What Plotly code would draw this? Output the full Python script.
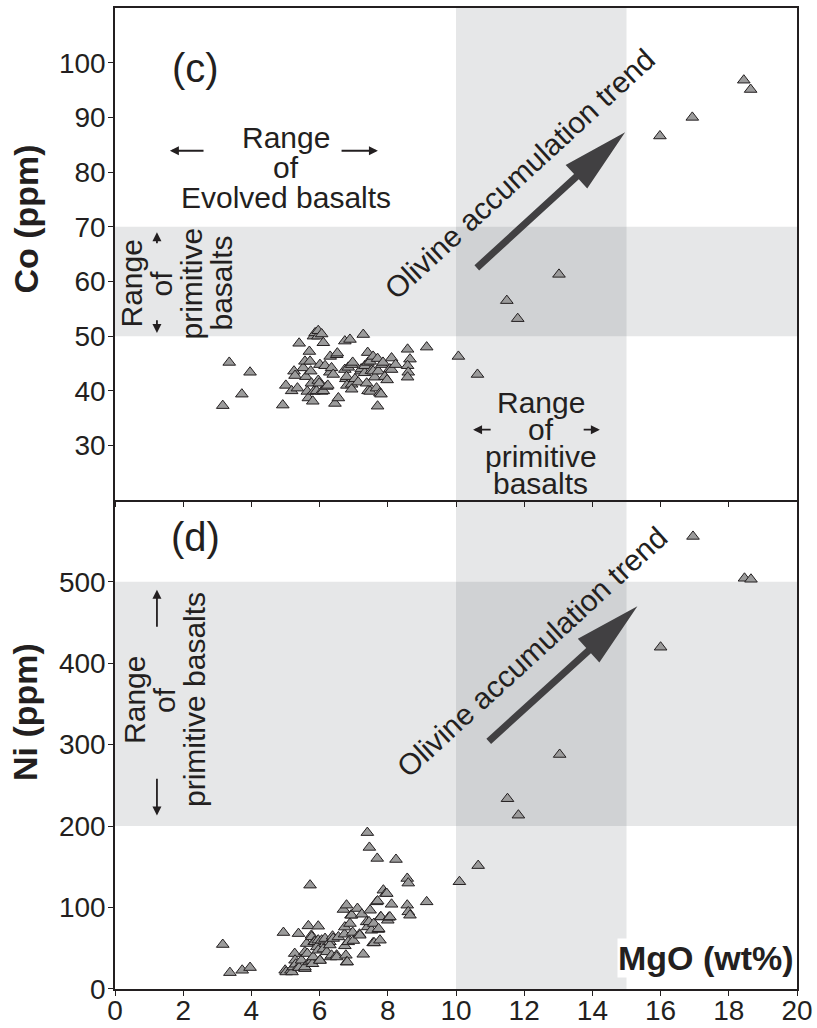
import math

import plotly.graph_objects as go

# ── Data: Co panel (c) ───────────────────────────────────────────────────────
co_mgo = [
    3.16, 3.35, 3.72, 3.96, 4.92, 5.01, 5.18, 5.25, 5.28, 5.35, 5.40,
    5.52, 5.57, 5.60, 5.64, 5.67, 5.70, 5.72, 5.74, 5.76, 5.80, 5.82, 5.83,
    5.87, 5.91, 5.95, 5.96, 5.96, 5.99, 6.01, 6.06, 6.06, 6.11, 6.11, 6.16,
    6.21, 6.24, 6.30, 6.31, 6.35, 6.40, 6.45, 6.50, 6.52, 6.55, 6.74, 6.74,
    6.77, 6.79, 6.80, 6.84, 6.89, 6.94, 6.94, 6.94, 6.97, 7.04, 7.13, 7.21,
    7.22, 7.28, 7.32, 7.33, 7.38, 7.41, 7.42, 7.42, 7.48, 7.48, 7.52, 7.57,
    7.57, 7.62, 7.67, 7.70, 7.70, 7.72, 7.77, 7.80, 7.82, 7.86, 7.91, 7.98,
    8.06, 8.11, 8.11, 8.23, 8.58, 8.65, 8.58, 8.60, 8.58, 9.14,
    10.07, 10.63, 11.49, 11.81, 13.02, 15.98, 16.93, 18.44, 18.64,
]
co_ppm = [
    37.3, 45.2, 39.4, 43.4, 37.4, 41.0, 40.0, 43.6, 42.8, 40.5, 48.7,
    44.2, 45.4, 42.6, 39.9, 38.7, 47.2, 45.4, 43.6, 41.4, 38.1, 50.0, 39.9,
    50.6, 40.0, 50.0, 51.0, 41.9, 41.4, 44.8, 39.9, 50.4, 48.8, 40.0, 44.6,
    40.8, 41.0, 43.4, 46.3, 44.2, 43.0, 37.7, 46.6, 46.9, 38.7, 43.9, 49.1,
    42.2, 42.6, 41.0, 44.3, 49.4, 44.8, 41.2, 40.3, 45.2, 42.2, 41.6, 43.6,
    44.0, 50.3, 43.3, 44.6, 41.4, 47.0, 45.2, 40.0, 45.4, 39.9, 43.7, 46.3,
    43.6, 42.5, 40.5, 45.9, 37.2, 43.6, 39.6, 39.4, 44.8, 45.2, 42.6, 42.0,
    44.0, 46.0, 43.9, 44.8, 47.6, 45.8, 44.6, 43.4, 42.5, 48.0,
    46.3, 43.0, 56.5, 53.2, 61.3, 86.6, 90.0, 96.8, 95.1,
]

# ── Data: Ni panel (d) ───────────────────────────────────────────────────────
ni_mgo = [
    3.16, 3.37, 3.73, 3.96, 4.94, 4.99, 5.02, 5.16, 5.19, 5.23, 5.27, 5.28,
    5.30, 5.38, 5.38, 5.40, 5.47, 5.57, 5.57, 5.57, 5.62, 5.64, 5.67, 5.70,
    5.72, 5.76, 5.77, 5.77, 5.79, 5.81, 5.84, 5.86, 5.92, 5.96, 5.96, 5.96,
    6.01, 6.01, 6.06, 6.11, 6.16, 6.21, 6.30, 6.30, 6.32, 6.35, 6.38, 6.40,
    6.50, 6.50, 6.55, 6.70, 6.73, 6.74, 6.74, 6.77, 6.79, 6.79, 6.81, 6.84,
    6.89, 6.92, 6.94, 6.97, 6.99, 7.11, 7.17, 7.18, 7.24, 7.28, 7.38, 7.40,
    7.41, 7.45, 7.46, 7.48, 7.52, 7.57, 7.59, 7.60, 7.67, 7.69, 7.70, 7.72,
    7.73, 7.77, 7.79, 7.80, 7.87, 7.94, 7.97, 8.00, 8.03, 8.06, 8.11, 8.24,
    8.57, 8.60, 8.57, 8.60, 8.65, 9.14, 10.10, 10.65, 11.51, 11.83, 13.04,
    16.00, 16.95, 18.46, 18.65,
]
ni_ppm = [
    54.6, 20.1, 23.0, 26.3, 69.3, 23.0, 20.9, 23.0, 20.9, 27.0, 43.5, 35.3,
    30.4, 68.0, 27.0, 26.3, 35.3, 25.0, 45.5, 27.0, 55.8, 43.5, 77.5, 33.2,
    127.5, 65.9, 64.0, 35.0, 31.0, 39.3, 58.0, 57.9, 51.6, 77.1, 47.6, 60.0,
    35.3, 35.0, 59.9, 49.0, 61.9, 45.6, 57.9, 54.0, 39.3, 41.4, 64.8, 62.0,
    41.5, 39.3, 63.9, 97.6, 67.3, 76.0, 53.0, 41.4, 102.9, 33.0, 33.2, 57.9,
    80.4, 90.6, 90.6, 69.4, 59.5, 98.8, 67.3, 66.0, 91.8, 42.6, 82.4, 192.0,
    76.2, 82.4, 173.8, 96.7, 72.1, 56.6, 80.4, 56.6, 107.0, 160.3, 108.0, 73.0,
    74.0, 59.9, 88.5, 88.5, 121.3, 117.3, 117.2, 84.4, 88.0, 88.5, 104.0, 159.0,
    135.7, 130.0, 102.9, 94.7, 90.6, 107.0, 131.7, 151.5, 233.6, 213.4, 287.9,
    419.6, 555.6, 504.2, 503.0,
]

# ── Shaded ranges ────────────────────────────────────────────────────────────
mgo_primitive = [10, 15]
co_primitive = [50, 70]
ni_primitive = [200, 500]

x_range = [0, 20]
co_range = [20, 110]
ni_range = [0, 600]
x_ticks = list(range(0, 21, 2))
co_ticks = list(range(30, 101, 10))
ni_ticks = list(range(0, 501, 100))

# trend arrows (tail, tip) in data units
co_trend = [(10.61, 62.5), (14.96, 87.3)]
ni_trend = [(10.96, 304.0), (15.32, 470.0)]

INK = "#231f20"
FONT = "Liberation Sans, Arial, sans-serif"

# ── Geometry ─────────────────────────────────────────────────────────────────
W, H = 817, 1028
M = dict(l=115, r=20, t=8, b=39)
PLOT_W = W - M["l"] - M["r"]
PLOT_H = H - M["t"] - M["b"]
SPLIT = 0.4982
px_x = PLOT_W / (x_range[1] - x_range[0])
px_co = PLOT_H * (1 - SPLIT) / (co_range[1] - co_range[0])
px_ni = PLOT_H * SPLIT / (ni_range[1] - ni_range[0])


def arrow_path(tail, tip, ys, shaft=7.0, head_len=66.0, head_w=32.0):
    """Block arrow as an SVG path, built in pixel space so it is not skewed."""
    tx, ty = tail[0] * px_x, tail[1] * ys
    hx, hy = tip[0] * px_x, tip[1] * ys
    L = math.hypot(hx - tx, hy - ty)
    ux, uy = (hx - tx) / L, (hy - ty) / L
    nx, ny = -uy, ux
    bx, by = hx - ux * head_len, hy - uy * head_len
    pts = [
        (tx + nx * shaft / 2, ty + ny * shaft / 2),
        (bx + nx * shaft / 2, by + ny * shaft / 2),
        (bx + nx * head_w / 2, by + ny * head_w / 2),
        (hx, hy),
        (bx - nx * head_w / 2, by - ny * head_w / 2),
        (bx - nx * shaft / 2, by - ny * shaft / 2),
        (tx - nx * shaft / 2, ty - ny * shaft / 2),
    ]
    return "M " + " L ".join(f"{x / px_x:.4f},{y / ys:.4f}" for x, y in pts) + " Z"


fig = go.Figure()

marker = dict(symbol="triangle-up", size=11, color="#9b9b9b",
              line=dict(color=INK, width=1))
fig.add_trace(go.Scatter(x=co_mgo, y=co_ppm, mode="markers", marker=marker,
                         xaxis="x2", yaxis="y2", showlegend=False))
fig.add_trace(go.Scatter(x=ni_mgo, y=ni_ppm, mode="markers", marker=marker,
                         xaxis="x", yaxis="y", showlegend=False))

# ── Grey bands ───────────────────────────────────────────────────────────────
band = dict(type="rect", layer="below", line=dict(width=0),
            fillcolor="rgba(90,95,100,0.15)")
for xr, yr, y0, y1 in [("x2", "y2", *co_primitive), ("x", "y", *ni_primitive)]:
    fig.add_shape(**band, xref=xr, yref=yr, x0=x_range[0], x1=x_range[1], y0=y0, y1=y1)
fig.add_shape(**band, xref="x2", yref="y2", x0=mgo_primitive[0], x1=mgo_primitive[1],
              y0=co_range[0], y1=co_range[1])
fig.add_shape(**band, xref="x", yref="y", x0=mgo_primitive[0], x1=mgo_primitive[1],
              y0=ni_range[0], y1=ni_range[1])

# ── Trend arrows ─────────────────────────────────────────────────────────────
fig.add_shape(type="path", xref="x2", yref="y2", path=arrow_path(*co_trend, px_co),
              fillcolor="#414042", line=dict(width=0))
fig.add_shape(type="path", xref="x", yref="y", path=arrow_path(*ni_trend, px_ni),
              fillcolor="#414042", line=dict(width=0))


def label(text, x, y, xr, yr, size=30, angle=0, xshift=0, yshift=0,
          xanchor="center", yanchor="middle", **kw):
    fig.add_annotation(text=text, x=x, y=y, xref=xr, yref=yr, showarrow=False,
                       textangle=angle, xshift=xshift, yshift=yshift,
                       xanchor=xanchor, yanchor=yanchor,
                       font=dict(family=FONT, size=size, color=INK), **kw)


def small_arrow(tail, tip, xr, yr):
    fig.add_annotation(x=tip[0], y=tip[1], ax=tail[0], ay=tail[1], xref=xr, yref=yr,
                       axref=xr, ayref=yr, text="", showarrow=True, arrowhead=2,
                       arrowsize=1, arrowwidth=1.8, arrowcolor=INK, standoff=0)


# ── Panel (c) text ───────────────────────────────────────────────────────────
label("(c)", 2.37, 99.0, "x2", "y2", size=40)
label("Olivine accumulation trend", 11.88, 79.7, "x2", "y2", angle=-42.5)
for i, t in enumerate(["Range", "of", "Evolved basalts"]):
    label(t, 5.0, 80.9, "x2", "y2", yshift=30 - 30 * i)
small_arrow((2.64, 83.9), (1.61, 83.9), "x2", "y2")
small_arrow((6.60, 83.9), (7.71, 83.9), "x2", "y2")
for i, t in enumerate(["Range", "of", "primitive", "basalts"]):
    label(t, 1.80, 59.7, "x2", "y2", angle=-90, xshift=-45 + 30 * i)
small_arrow((1.23, 66.7), (1.23, 69.0), "x2", "y2")
small_arrow((1.23, 53.2), (1.23, 50.6), "x2", "y2")
for i, t in enumerate(["Range", "of", "primitive", "basalts"]):
    label(t, 12.49, 33.0, "x2", "y2", yshift=27 - 27 * i)
small_arrow((11.06, 32.9), (10.50, 32.9), "x2", "y2")
small_arrow((13.70, 32.9), (14.22, 32.9), "x2", "y2")

# ── Panel (d) text ───────────────────────────────────────────────────────────
label("(d)", 2.37, 555, "x", "y", size=40)
label("Olivine accumulation trend", 12.24, 414.6, "x", "y", angle=-42.5)
for i, t in enumerate(["Range", "of", "primitive basalts"]):
    label(t, 1.47, 355, "x", "y", angle=-90, xshift=-30 + 30 * i)
small_arrow((1.23, 443), (1.23, 490), "x", "y")
small_arrow((1.23, 260), (1.23, 213), "x", "y")
label("<b>MgO (wt%)</b>", 19.95, 38, "x", "y", size=34, xanchor="right",
      bgcolor="white", borderpad=0)

# ── Axis titles ──────────────────────────────────────────────────────────────
label("<b>Co (ppm)</b>", -0.131, 0.785, "paper", "paper", size=34, angle=-90)
label("<b>Ni (ppm)</b>", -0.131, 0.282, "paper", "paper", size=34, angle=-90)

axis_common = dict(showgrid=False, zeroline=False, showline=True, linecolor=INK,
                   linewidth=1.5, mirror=True, ticks="outside", ticklen=5,
                   tickwidth=1.3, tickcolor=INK, automargin=False,
                   tickfont=dict(family=FONT, size=28, color=INK))

fig.update_layout(
    width=W, height=H, margin=M,
    plot_bgcolor="white", paper_bgcolor="white",
    xaxis=dict(**{**axis_common, "mirror": False}, range=x_range, tickvals=x_ticks,
               anchor="y", ticklabelstandoff=-9),
    yaxis=dict(**axis_common, range=ni_range, tickvals=ni_ticks,
               domain=[0, SPLIT], anchor="x", ticklabelstandoff=-3),
    xaxis2=dict(**axis_common, range=x_range, tickvals=x_ticks, anchor="y2",
                showticklabels=False, matches="x"),
    yaxis2=dict(**axis_common, range=co_range, tickvals=co_ticks,
                domain=[SPLIT, 1], anchor="x2", ticklabelstandoff=-3),
)

fig.write_html("out.html", config={"displayModeBar": False},
               post_script="document.body.style.margin='0';")
